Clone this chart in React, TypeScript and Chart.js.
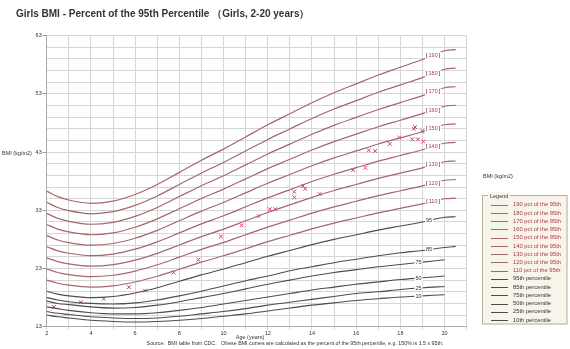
import React, { useEffect, useRef } from "react";
import { Chart, registerables } from "chart.js";

Chart.register(...registerables);

// ---- Data ----
const ages = [2, 2.5, 3, 4, 5, 6, 7, 8, 9, 10, 11, 12, 13, 14, 15, 16, 17, 18, 19, 20, 20.5];
const p95 = [19.1, 18.6, 18.3, 18.0, 18.2, 18.8, 19.7, 20.8, 21.9, 22.9, 24.0, 25.1, 26.1, 27.1, 28.0, 28.8, 29.6, 30.3, 31.0, 31.8, 31.9];
const p85 = [18.0, 17.6, 17.3, 17.0, 16.9, 17.1, 17.6, 18.3, 19.1, 20.0, 20.9, 21.7, 22.6, 23.3, 24.0, 24.6, 25.2, 25.7, 26.1, 26.6, 26.8];
const p75 = [17.4, 17.0, 16.8, 16.4, 16.2, 16.3, 16.7, 17.3, 18.0, 18.7, 19.5, 20.3, 21.0, 21.7, 22.3, 22.8, 23.3, 23.7, 24.1, 24.5, null];
const p50 = [16.4, 16.1, 15.8, 15.4, 15.2, 15.2, 15.4, 15.8, 16.3, 16.9, 17.5, 18.1, 18.7, 19.3, 19.8, 20.3, 20.7, 21.1, 21.4, 21.7, null];
const p25 = [15.6, 15.3, 15.1, 14.7, 14.5, 14.4, 14.5, 14.8, 15.2, 15.6, 16.1, 16.7, 17.2, 17.7, 18.2, 18.7, 19.0, 19.4, 19.7, 19.9, null];
const p10 = [15.0, 14.7, 14.5, 14.1, 13.9, 13.8, 13.9, 14.1, 14.4, 14.8, 15.2, 15.7, 16.2, 16.7, 17.1, 17.5, 17.8, 18.1, 18.3, 18.5, null];

const pctLevels = [190, 180, 170, 160, 150, 140, 130, 120, 110];
const percentileNames = ["95", "85", "75", "50", "25", "10"];
const percentileSeries = [p95, p85, p75, p50, p25, p10];

const legendLabels = [
  "190 pct of the 95th", "180 pct of the 95th", "170 pct of the 95th", "160 pct of the 95th",
  "150 pct of the 95th", "140 pct of the 95th", "130 pct of the 95th", "120 pct of the 95th",
  "110 pct of the 95th", "95th percentile", "85th percentile", "75th percentile",
  "50th percentile", "25th percentile", "10th percentile",
];

const patientAges = [2.33, 3.54, 4.58, 5.72, 6.45, 7.74, 8.86, 9.88, 10.82, 11.59, 12.09, 12.34, 13.2, 13.2, 13.6, 13.69, 14.35, 15.86, 16.42, 16.57, 16.86, 17.52, 17.95, 18.54, 18.66, 18.61, 18.79, 18.99, 19.04];
const patientBmi = [16.4, 17.2, 17.8, 19.8, 19.2, 22.3, 24.5, 28.5, 30.4, 32.0, 33.2, 33.2, 35.2, 36.2, 37.2, 36.7, 35.8, 39.9, 40.3, 43.3, 43.2, 44.4, 45.5, 45.2, 47.3, 47.0, 45.2, 46.6, 44.8];

const titleText = "Girls BMI - Percent of the 95th Percentile （Girls, 2-20 years）";
const yTitle = "BMI (kg/m2)";
const xTitle = "Age (years)";
const sourceText = "Source:  BMI table from CDC.   Obese BMI curves are calculated as the percent of the 95th percentile, e.g. 150% is 1.5 x 95th.";

// ---- Styles ----
const FONT = '"Liberation Sans", Arial, sans-serif';
const PCT_LINE = "#a5676c";
const PCT_TEXT = "#b03848";
const PRC_LINE = "#4d4d4d";
const TEXT = "#333333";
const MARK = "#d03c80";

function interp(arr: (number | null)[], age: number): number {
  for (let i = 0; i < ages.length - 1; i++) {
    if (age >= ages[i] && age <= ages[i + 1]) {
      const a = arr[i] as number;
      const b = arr[i + 1] as number;
      return a + ((b - a) * (age - ages[i])) / (ages[i + 1] - ages[i]);
    }
  }
  return arr[0] as number;
}

const overlayPlugin = {
  id: "overlay",
  afterDatasetsDraw(chart: any) {
    const ctx = chart.ctx;
    const xs = chart.scales.x;
    const ys = chart.scales.y;
    ctx.save();
    ctx.textBaseline = "middle";

    ctx.font = `5.5px ${FONT}`;
    pctLevels.forEach((lvl) => {
      const age = 19.48;
      const v = (interp(p95, age) * lvl) / 100;
      const cx = xs.getPixelForValue(age);
      const cy = ys.getPixelForValue(v);
      const num = String(lvl);
      const wb = ctx.measureText("[").width;
      const wn = ctx.measureText(num).width;
      const w = wb * 2 + wn + 2;
      ctx.fillStyle = "#ffffff";
      ctx.fillRect(cx - w / 2 - 1, cy - 3.5, w + 2, 7);
      let x = cx - w / 2;
      ctx.textAlign = "left";
      ctx.fillStyle = "#222";
      ctx.fillText("[", x, cy);
      x += wb + 1;
      ctx.fillStyle = PCT_TEXT;
      ctx.fillText(num, x, cy);
      x += wn + 1;
      ctx.fillStyle = "#222";
      ctx.fillText("]", x, cy);
    });

    percentileNames.forEach((name, i) => {
      const age = i < 2 ? 19.3 : 18.82;
      const v = interp(percentileSeries[i], age);
      const cx = xs.getPixelForValue(age);
      const cy = ys.getPixelForValue(v);
      const w = ctx.measureText(name).width;
      ctx.fillStyle = "#ffffff";
      ctx.fillRect(cx - w / 2 - 1, cy - 3, w + 2, 6);
      ctx.fillStyle = TEXT;
      ctx.textAlign = "center";
      ctx.fillText(name, cx, cy);
    });
    ctx.restore();
  },
  afterDraw(chart: any) {
    const ctx = chart.ctx;
    ctx.save();
    ctx.textBaseline = "middle";

    ctx.fillStyle = TEXT;
    ctx.textAlign = "left";
    ctx.font = `bold 10px ${FONT}`;
    ctx.fillText(titleText, 16, 14);

    ctx.font = `5.5px ${FONT}`;
    ctx.fillText(yTitle, 2, 153);
    ctx.fillText(yTitle, 483, 176);
    ctx.textAlign = "center";
    ctx.fillText(xTitle, 250, 337);
    ctx.font = `5.3px ${FONT}`;
    ctx.fillText(sourceText, 295, 344);

    const bx = 482.5, by = 195.5, bw = 84.5, bh = 128.5;
    ctx.fillStyle = "#f7f4e9";
    ctx.fillRect(bx, by, bw, bh);
    ctx.strokeStyle = "#b5ad99";
    ctx.lineWidth = 1;
    ctx.strokeRect(bx, by, bw, bh);
    ctx.font = `5.5px ${FONT}`;
    ctx.textAlign = "left";
    const lw = ctx.measureText("Legend").width;
    ctx.fillStyle = "#f7f4e9";
    ctx.fillRect(488, 192, lw + 4, 7);
    ctx.fillStyle = TEXT;
    ctx.fillText("Legend", 490, 196);

    ctx.font = `5.8px ${FONT}`;
    legendLabels.forEach((lab, i) => {
      const y = 204.7 + i * 8.24;
      const isPct = i < pctLevels.length;
      ctx.strokeStyle = isPct ? PCT_LINE : PRC_LINE;
      ctx.beginPath();
      ctx.moveTo(491, Math.round(y) + 0.5);
      ctx.lineTo(508, Math.round(y) + 0.5);
      ctx.stroke();
      ctx.fillStyle = isPct ? PCT_TEXT : TEXT;
      ctx.fillText(lab, 513, y);
    });
    ctx.restore();
  },
};

export default function App() {
  const ref = useRef<HTMLCanvasElement | null>(null);

  useEffect(() => {
    if (!ref.current) return;
    const datasets: any[] = [];
    pctLevels.forEach((lvl) => {
      datasets.push({
        label: `${lvl} pct of the 95th`,
        data: ages.map((a, i) => ({ x: a, y: (p95[i] * lvl) / 100 })),
        borderColor: PCT_LINE,
        borderWidth: 1.2,
        pointRadius: 0,
        fill: false,
        cubicInterpolationMode: "monotone",
      });
    });
    percentileSeries.forEach((arr, k) => {
      datasets.push({
        label: `${percentileNames[k]}th percentile`,
        data: ages.map((a, i) => ({ x: a, y: arr[i] })),
        borderColor: PRC_LINE,
        borderWidth: 1.1,
        pointRadius: 0,
        fill: false,
        spanGaps: false,
        cubicInterpolationMode: "monotone",
      });
    });
    datasets.push({
      type: "scatter",
      label: "Patient",
      data: patientAges.map((a, i) => ({ x: a, y: patientBmi[i] })),
      showLine: false,
      pointStyle: "crossRot",
      pointRadius: 2.7,
      borderColor: MARK,
      backgroundColor: MARK,
      borderWidth: 1,
    });

    const chart = new Chart(ref.current, {
      type: "line",
      data: { datasets },
      options: {
        responsive: false,
        animation: false,
        layout: { padding: { left: 0, top: 35.7, right: 103.3, bottom: 0 } },
        plugins: { legend: { display: false }, tooltip: { enabled: false }, title: { display: false } },
        scales: {
          x: {
            type: "linear",
            min: 2,
            max: 21,
            ticks: {
              stepSize: 1,
              autoSkip: false,
              maxRotation: 0,
              padding: 0,
              color: TEXT,
              font: { size: 5.5, family: FONT },
              callback: (v: any) => (v % 2 === 0 && v <= 20 ? String(v) : ""),
            },
            grid: { color: "#d6d6d6", tickLength: 3, tickColor: "#d6d6d6" },
            border: { color: "#aaaaaa" },
            afterFit: (s: any) => { s.height = 22.3; },
          },
          y: {
            min: 13,
            max: 63,
            ticks: {
              stepSize: 2,
              autoSkip: false,
              padding: 1,
              color: TEXT,
              font: { size: 5.5, family: FONT },
              callback: (v: any) => ((v - 13) % 10 === 0 ? String(v) : ""),
            },
            grid: {
              color: "#d6d6d6",
              tickLength: 4,
              tickColor: (c: any) => (c.tick && (c.tick.value - 13) % 10 === 0 ? "#999999" : "rgba(0,0,0,0)"),
            },
            border: { color: "#aaaaaa" },
            afterFit: (s: any) => { s.width = 46.7; },
          },
        },
      },
      plugins: [overlayPlugin],
    } as any);
    return () => chart.destroy();
  }, []);

  return (
    <div style={{ position: "absolute", left: 0, top: 0, width: 570, height: 349, background: "#fff" }}>
      <canvas ref={ref} width={570} height={349} style={{ display: "block" }} />
    </div>
  );
}
